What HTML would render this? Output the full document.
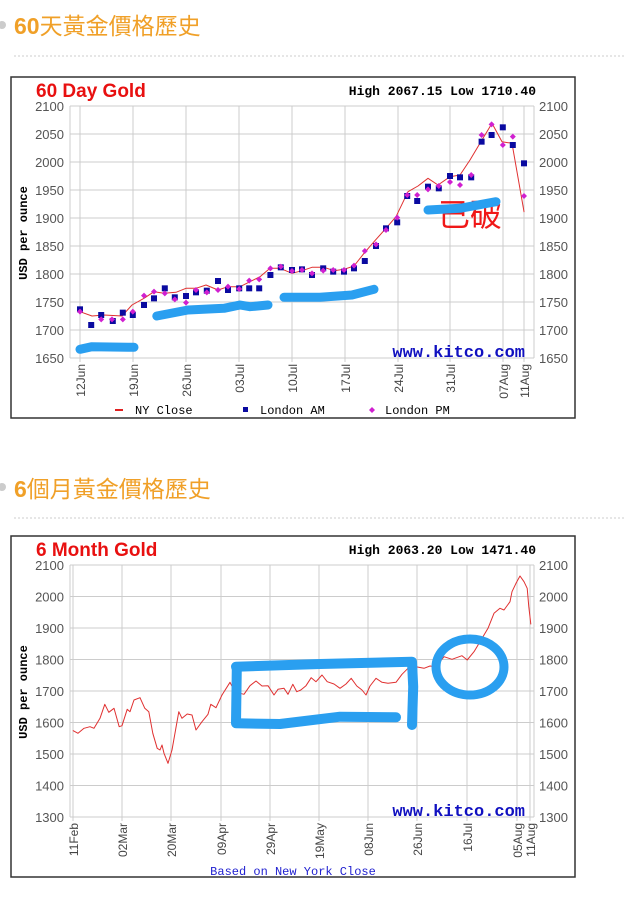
<!DOCTYPE html>
<html><head><meta charset="utf-8"><style>
html,body{margin:0;padding:0;background:#fff;width:624px;height:900px;overflow:hidden}
svg{display:block}
</style></head><body>
<svg id="s" width="624" height="900" xmlns="http://www.w3.org/2000/svg" font-family="Liberation Sans, sans-serif">
<rect width="624" height="900" fill="#fff"/>
<circle cx="2" cy="25" r="4" fill="#ccc"/>
<text x="14" y="34" font-size="23" fill="#f0a028" font-family="Liberation Sans, Noto Sans CJK TC, sans-serif" font-weight="bold">60<tspan font-weight="normal">天黃金價格歷史</tspan></text>
<line x1="14" y1="56" x2="624" y2="56" stroke="#ccc" stroke-dasharray="2,2"/>
<circle cx="2" cy="487" r="4" fill="#ccc"/>
<text x="14" y="497" font-size="23" fill="#f0a028" font-family="Liberation Sans, Noto Sans CJK TC, sans-serif" font-weight="bold">6<tspan font-weight="normal">個月黃金價格歷史</tspan></text>
<line x1="14" y1="518" x2="624" y2="518" stroke="#ccc" stroke-dasharray="2,2"/>
<g id="g"></g>
</svg>
<script>
var g=document.getElementById('g'),h='';
function frame(top,bot,title,hl,pmin,pmax,step,x0,xmax,ticks){
 h+='<rect x="11" y="'+top+'" width="564" height="'+(bot-top)+'" fill="#fff" stroke="#333" stroke-width="1.5"/>';
 h+='<text x="36" y="'+(top+20)+'" font-size="19" font-weight="bold" fill="#e81010">'+title+'</text>';
 h+='<text x="536" y="'+(top+18)+'" font-size="13" font-weight="bold" font-family="Liberation Mono,monospace" text-anchor="end">'+hl+'</text>';
 var yt=top+29,yb=top+281;
 for(var v=pmin;v<=pmax;v+=step){var y=yb-(v-pmin)/(pmax-pmin)*(yb-yt);
  h+='<line x1="70" x2="534" y1="'+y+'" y2="'+y+'" stroke="#ccc"/>';
  h+='<text x="64" y="'+(y+5)+'" font-size="13" fill="#555" text-anchor="end">'+v+'</text>';
  h+='<text x="539" y="'+(y+5)+'" font-size="13" fill="#555">'+v+'</text>';}
 h+='<line x1="70" x2="70" y1="'+yt+'" y2="'+yb+'" stroke="#ccc"/><line x1="534" x2="534" y1="'+yt+'" y2="'+yb+'" stroke="#ccc"/>';
 ticks.forEach(function(t){h+='<line x1="'+t[0]+'" x2="'+t[0]+'" y1="'+yt+'" y2="'+(yb+4)+'" stroke="#ccc"/>';
  h+='<text transform="translate('+(t[0]+5)+','+(yb+6)+') rotate(-90)" font-size="12" fill="#444" text-anchor="end">'+t[1]+'</text>';});
 h+='<text transform="translate(27,'+(top+156)+') rotate(-90)" font-size="12" font-weight="bold" font-family="Liberation Mono,monospace" text-anchor="middle">USD per ounce</text>';
 h+='<text x="525" y="'+(yb-1)+'" font-size="17" font-weight="bold" fill="#1010c0" font-family="Liberation Mono,monospace" text-anchor="end">www.kitco.com</text>';
}
function pts(a,oy){var r=[];for(var i=0;i<a.length;i+=2)r.push([a[i]/2.5,oy+a[i+1]/3]);return r;}
function pl(p,c,w){h+='<polyline fill="none" stroke="'+c+'" stroke-width="'+w+'" stroke-linejoin="round" stroke-linecap="round" points="'+p.map(function(q){return q[0].toFixed(1)+','+q[1].toFixed(1)}).join(' ')+'"/>';}
frame(77,418,'60 Day Gold','High 2067.15 Low 1710.40',1650,2100,50,0,0,[[80,'12Jun'],[133,'19Jun'],[186,'26Jun'],[239,'03Jul'],[292,'10Jul'],[345,'17Jul'],[398,'24Jul'],[450,'31Jul'],[503,'07Aug'],[524,'11Aug']]);
var ny=[200,755,230,768,260,765,305,768,330,735,360,715,385,695,410,700,440,697,465,685,490,685,515,675,545,690,570,680,600,680,625,665,650,650,675,625,700,625,730,640,755,632,780,622,810,622,835,632,860,628,885,618,910,580,935,545,965,505,990,470,1020,395,1045,378,1070,355,1095,375,1125,350,1150,345,1175,300,1200,250,1230,190,1255,245,1280,250,1310,455];
pl(pts(ny,60),'#e03030',1);
var am=[200,748,228,795,253,765,282,783,307,758,332,765,360,735,385,715,412,685,437,712,465,708,490,697,517,692,545,663,570,690,598,685,623,685,648,685,676,645,702,622,730,630,755,628,780,645,808,625,833,635,860,635,885,625,912,603,940,558,965,505,993,487,1018,408,1043,423,1070,380,1097,385,1125,348,1150,352,1178,352,1204,245,1229,225,1257,202,1282,255,1310,310];
var pm=[200,755,253,778,280,778,307,778,332,755,360,707,385,695,412,700,437,718,465,728,490,690,517,697,545,690,570,680,598,687,623,662,648,658,676,625,702,620,730,633,755,630,780,640,808,632,833,630,860,630,885,617,912,573,940,553,965,510,993,473,1018,405,1043,405,1070,388,1097,378,1125,366,1150,375,1178,345,1204,225,1229,193,1257,255,1282,230,1310,408];
pts(am,60).forEach(function(p){h+='<rect x="'+(p[0]-3)+'" y="'+(p[1]-3)+'" width="6" height="6" fill="#0a0aa0"/>';});
pts(pm,60).forEach(function(p){h+='<path d="M'+p[0]+','+(p[1]-3)+'l3,3l-3,3l-3,-3z" fill="#d020d0"/>';});
h+='<line x1="115" x2="123" y1="410" y2="410" stroke="#e02020" stroke-width="2"/><text x="135" y="414" font-size="12" font-family="Liberation Mono,monospace">NY Close</text>';
h+='<rect x="243" y="407" width="5" height="5" fill="#0a0aa0"/><text x="260" y="414" font-size="12" font-family="Liberation Mono,monospace">London AM</text>';
h+='<path d="M372,407l3,3l-3,3l-3,-3z" fill="#d020d0"/><text x="385" y="414" font-size="12" font-family="Liberation Mono,monospace">London PM</text>';
var bl='#2a9ff0';
pl(pts([200,868,230,860,335,862],60),bl,9);
pl(pts([392,768,470,750,560,745,600,735,625,740,670,735],60),bl,9);
pl(pts([710,712,800,712,880,705,935,688],60),bl,9);
h+='<text x="438" y="226" font-size="32" fill="#f01818" font-family="Noto Sans CJK TC, sans-serif">已破</text>';
pl(pts([1070,450,1150,445,1240,425],60),bl,9);
frame(536,877,'6 Month Gold','High 2063.20 Low 1471.40',1300,2100,100,0,0,[[73,'11Feb'],[122,'02Mar'],[171,'20Mar'],[221,'09Apr'],[270,'29Apr'],[319,'19May'],[368,'08Jun'],[417,'26Jun'],[467,'16Jul'],[517,'05Aug'],[530,'11Aug']]);
h+='<text x="293" y="875" font-size="12" fill="#2020d0" font-family="Liberation Mono,monospace" text-anchor="middle">Based on New York Close</text>';
var l2=[183,632,195,640,210,625,225,620,235,625,250,595,262,553,272,577,285,565,298,620,305,617,318,568,325,575,335,540,350,533,362,565,372,575,382,640,393,685,400,690,405,675,410,700,420,730,430,690,447,575,455,595,468,582,480,585,490,630,505,605,520,583,527,553,540,563,555,525,575,487,590,523,600,520,610,523,625,497,640,483,655,498,670,497,685,525,695,508,710,505,720,523,732,493,742,515,752,510,765,497,778,473,790,485,805,465,818,485,835,492,850,505,865,492,878,475,892,498,905,510,915,525,925,498,940,475,955,487,970,490,990,487,1005,463,1020,445,1040,440,1060,445,1075,438,1090,440,1110,410,1130,418,1155,407,1168,420,1185,395,1200,365,1220,325,1235,280,1250,265,1260,270,1275,245,1280,215,1290,190,1300,168,1310,185,1318,205,1322,260,1327,312];
pl(pts(l2,520),'#e03030',1);
pl(pts([590,440,800,432,1030,425,1033,500,1030,615],520),bl,10);
pl(pts([592,445,590,610,700,612,850,590,990,592],520),bl,10);
h+='<ellipse cx="470" cy="667" rx="34" ry="28" fill="none" stroke="'+bl+'" stroke-width="9"/>';
g.innerHTML=h;
</script>
</body></html>
